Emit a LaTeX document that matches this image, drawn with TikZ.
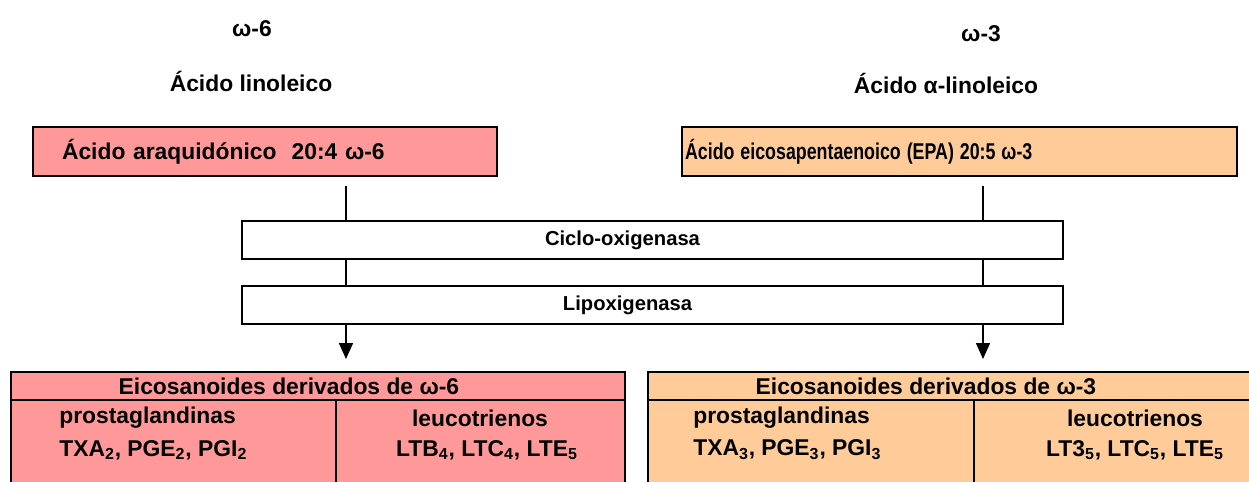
\documentclass[tikz,border=0pt]{standalone}
\usepackage{fontspec}
\setmainfont{Liberation Sans}
\usetikzlibrary{arrows.meta,positioning}
\definecolor{Rose}{HTML}{FF9999}
\definecolor{Peach}{HTML}{FFCC99}

\begin{document}
\begin{tikzpicture}[x=0.02cm,y=-0.02cm,
    big/.style={font=\fontsize{13}{15}\selectfont\bfseries,inner sep=0pt},
    small/.style={font=\fontsize{11.5}{13}\selectfont\bfseries,inner sep=0pt},
    acid/.style={big,draw,line width=1.1pt,minimum height=0.98cm,align=left},
    enzyme/.style={draw,line width=1.1pt,minimum width=16.42cm,minimum height=0.76cm,inner sep=0pt},
    cell/.style={draw,line width=1.1pt,inner sep=0pt,anchor=north west},
    link/.style={draw=black,line width=0.9pt},
    flow/.style={link,-{Triangle[length=0.32cm,width=0.28cm]},shorten >=0.24cm}]
  \path[use as bounding box,clip] (0,0) rectangle (1249,481);
  \node[big] (w6) at (252,29) {ω-6};
  \node[big] (w3) at (981,34) {ω-3};
  \node[big] (lin) at (251,81) {Ácido linoleico};
  \node[big] (alin) at (946,83) {Ácido α-linoleico};
  \node[acid,fill=Rose,inner xsep=0.58cm,text width=8.12cm] (ara) at (265,151.5) {Ácido araquidónico\ \ 20:4 ω-6};
  \node[acid,fill=Peach,inner xsep=0.06cm,text width=10.98cm] (epa) at (959.5,151.5) {\scalebox{0.78}[1]{Ácido eicosapentaenoico (EPA) 20:5 ω-3}};
  \node[enzyme,label={[small,xshift=-0.6cm]center:Ciclo-oxigenasa}] (cox) at (652.5,240) {};
  \node[enzyme,label={[small,xshift=-0.5cm]center:Lipoxigenasa}] (lox) at (652.5,305) {};
  \node[cell,fill=Rose,minimum width=12.28cm,minimum height=0.56cm,
    label={[big,xshift=-0.58cm]center:Eicosanoides derivados de ω-6}] (hd6) at (10,371) {};
  \node[cell,fill=Rose,minimum width=6.5cm,minimum height=2.4cm] (pg6) at (10,399) {};
  \node[cell,fill=Rose,minimum width=5.78cm,minimum height=2.4cm] (lt6) at (335,399) {};
  \node[cell,fill=Peach,minimum width=12.28cm,minimum height=0.56cm,
    label={[big,xshift=-0.58cm]center:Eicosanoides derivados de ω-3}] (hd3) at (647,371) {};
  \node[cell,fill=Peach,minimum width=6.52cm,minimum height=2.4cm] (pg3) at (647,399) {};
  \node[cell,fill=Peach,minimum width=5.76cm,minimum height=2.4cm] (lt3) at (973,399) {};
  \node[big,anchor=west] (pg6a) at (59,418) {prostaglandinas};
  \node[big,anchor=west] (pg6b) at (59,450) {TXA\textsubscript{2}, PGE\textsubscript{2}, PGI\textsubscript{2}};
  \node[big] (lt6a) at (480,418) {leucotrienos};
  \node[big] (lt6b) at (487,450) {LTB\textsubscript{4}, LTC\textsubscript{4}, LTE\textsubscript{5}};
  \node[big,anchor=west] (pg3a) at (693,418) {prostaglandinas};
  \node[big,anchor=west] (pg3b) at (693,450) {TXA\textsubscript{3}, PGE\textsubscript{3}, PGI\textsubscript{3}};
  \node[big] (lt3a) at (1135,418) {leucotrienos};
  \node[big] (lt3b) at (1135,450) {LT3\textsubscript{5}, LTC\textsubscript{5}, LTE\textsubscript{5}};
  \coordinate (c6) at (346,0);
  \coordinate (c3) at (983,0);
  \draw[link] ([yshift=-0.18cm]ara.south -| c6) -- (cox.north -| c6);
  \draw[link] (cox.south -| c6) -- (lox.north -| c6);
  \draw[flow] (lox.south -| c6) -- (hd6.north -| c6);
  \draw[link] ([yshift=-0.18cm]epa.south -| c3) -- (cox.north -| c3);
  \draw[link] (cox.south -| c3) -- (lox.north -| c3);
  \draw[flow] (lox.south -| c3) -- (hd3.north -| c3);
\end{tikzpicture}
\end{document}
